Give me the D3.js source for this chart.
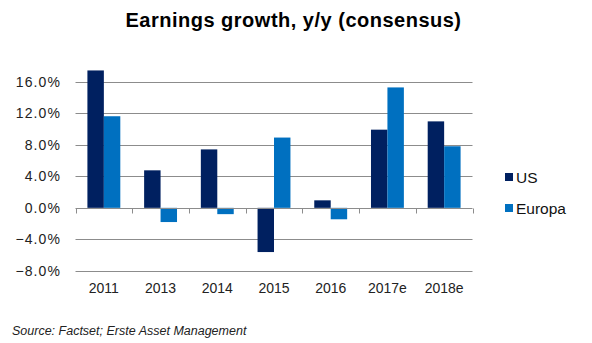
<!DOCTYPE html>
<html>
<head>
<meta charset="utf-8">
<style>
	body { margin: 0; background: #fff; font-family: "Liberation Sans", Arial, sans-serif; }
	svg { display: block; }
</style>
</head>
<body>
<div id="vis"></div>
<script src="https://d3js.org/d3.v7.min.js"></script>
<script>
	// data
	var years = ["2011", "2013", "2014", "2015", "2016", "2017e", "2018e"];
	var seriesNames = ["US", "Europa"];
	var us = [17.4, 4.75, 7.4, -5.6, 0.95, 9.9, 10.95];
	var europa = [11.6, -1.8, -0.8, 8.9, -1.45, 15.25, 7.8];
	var yTicks = [-8, -4, 0, 4, 8, 12, 16];

	var colors = ["#002060", "#0070c0"];
	var W = 592, H = 343;

	var svg = d3.select("#vis").append("svg")
		.attr("width", W)
		.attr("height", H);

	var rows = years.map(function(y, i) {
		return {year: y, values: [{name: "US", v: us[i]}, {name: "Europa", v: europa[i]}]};
	});

	var x = d3.scaleBand()
		.domain(years)
		.range([75.5, 472.5]);

	// bars are ~16px each with a 150% gap
	var x1 = d3.scaleBand()
		.domain(seriesNames)
		.range([x.bandwidth() * 0.21, x.bandwidth() * 0.79]);

	var y = d3.scaleLinear()
		.domain([-8, 16])
		.range([271, 81.5]);

	var color = d3.scaleOrdinal().domain(seriesNames).range(colors);

	// gridlines
	svg.append("g")
		.selectAll("line")
		.data(yTicks.filter(function(t) { return t !== 0; }))
		.enter().append("line")
		.attr("x1", 75.5).attr("x2", 472.5)
		.attr("y1", function(d) { return Math.round(y(d)) + 0.5; })
		.attr("y2", function(d) { return Math.round(y(d)) + 0.5; })
		.attr("stroke", "#8c8c8c")
		.attr("stroke-width", 1);

	// y labels
	svg.append("g")
		.selectAll("text")
		.data(yTicks)
		.enter().append("text")
		.attr("x", 61)
		.attr("y", function(d) { return y(d) + 5; })
		.attr("text-anchor", "end")
		.attr("font-size", "14px")
		.attr("letter-spacing", "1.1px")
		.attr("fill", "#222")
		.text(function(d) { return d3.format(".1f")(d) + "%"; });

	// bars
	var grp = svg.selectAll(".yr")
		.data(rows)
		.enter().append("g")
		.attr("class", "yr")
		.attr("transform", function(d) { return "translate(" + x(d.year) + ",0)"; });

	grp.selectAll("rect")
		.data(function(d) { return d.values; })
		.enter().append("rect")
		.attr("x", function(d) { return x1(d.name); })
		.attr("width", x1.bandwidth())
		.attr("y", function(d) { return y(Math.max(0, d.v)); })
		.attr("height", function(d) { return Math.abs(y(d.v) - y(0)); })
		.attr("fill", function(d) { return color(d.name); });

	// zero axis with ticks pointing down
	var axis = svg.append("g")
		.attr("transform", "translate(0," + (Math.round(y(0)) + 0.5) + ")")
		.call(d3.axisBottom(x).tickSize(0).tickFormat(""));
	axis.select(".domain").attr("stroke", "#8c8c8c").attr("d", "M75.5,0H472.5");
	axis.selectAll(".tick").remove();
	var bounds = years.map(function(d) { return x(d); }).concat([x.range()[1]]);
	axis.selectAll(".sep")
		.data(bounds)
		.enter().append("line")
		.attr("x1", function(d) { return Math.round(d) + 0.5; })
		.attr("x2", function(d) { return Math.round(d) + 0.5; })
		.attr("y1", 0).attr("y2", 5)
		.attr("stroke", "#8c8c8c");

	// x labels
	svg.append("g")
		.selectAll("text")
		.data(years)
		.enter().append("text")
		.attr("x", function(d) { return x(d) + x.bandwidth() / 2; })
		.attr("y", 293)
		.attr("text-anchor", "middle")
		.attr("font-size", "14px")
		.attr("fill", "#222")
		.text(function(d) { return d; });

	// legend
	var leg = svg.append("g")
		.selectAll("g")
		.data(seriesNames)
		.enter().append("g")
		.attr("transform", function(d, i) { return "translate(505," + (173 + i * 31) + ")"; });
	leg.append("rect")
		.attr("width", 8).attr("height", 8)
		.attr("fill", function(d) { return color(d); });
	leg.append("text")
		.attr("x", 11).attr("y", 9.5)
		.attr("font-size", "15.5px")
		.attr("fill", "#111")
		.text(function(d) { return d; });

	// title
	svg.append("text")
		.attr("x", 293.5).attr("y", 27)
		.attr("text-anchor", "middle")
		.attr("font-size", "20px")
		.attr("letter-spacing", "0.5px")
		.attr("font-weight", "bold")
		.attr("fill", "#000")
		.text("Earnings growth, y/y (consensus)");

	// source
	svg.append("text")
		.attr("x", 12).attr("y", 335)
		.attr("font-size", "12.5px")
		.attr("font-style", "italic")
		.attr("fill", "#222")
		.text("Source: Factset; Erste Asset Management");
</script>
</body>
</html>
